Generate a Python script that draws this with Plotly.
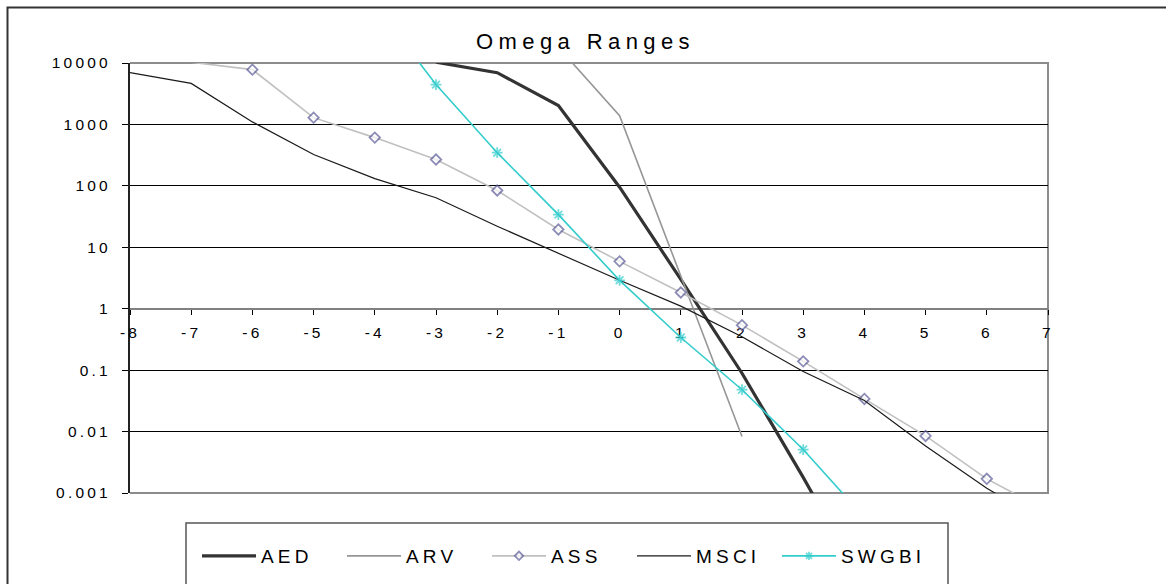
import plotly.graph_objects as go

# Omega values per threshold level for each series
aed_x = [-3, -2, -1, 0, 1, 2, 3, 4]
aed_y = [10300, 6950, 2030, 95, 3.0, 0.089, 0.0018, 0.00003]

arv_x = [-1, 0, 1, 2]
arv_y = [18000, 1390, 3.4, 0.0083]

ass_x = [-8, -7, -6, -5, -4, -3, -2, -1, 0, 1, 2, 3, 4, 5, 6, 7]
ass_y = [12000, 10300, 7800, 1290, 610, 268, 84, 19.5, 5.9, 1.84, 0.54, 0.139,
         0.034, 0.0085, 0.0017, 0.0005]

msci_x = [-8, -7, -6, -5, -4, -3, -2, -1, 0, 1, 2, 3, 4, 5, 6, 7]
msci_y = [6950, 4660, 1100, 324, 131, 64, 22, 7.9, 2.9, 1.1, 0.35, 0.095,
          0.032, 0.0058, 0.0012, 0.0003]

swgbi_x = [-4, -3, -2, -1, 0, 1, 2, 3, 4]
swgbi_y = [90000, 4450, 347, 34, 2.9, 0.34, 0.048, 0.0051, 0.0004]

x_ticks = list(range(-8, 8))
y_ticks = [0.001, 0.01, 0.1, 1, 10, 100, 1000, 10000]
y_labels = ["0.001", "0.01", "0.1", "1", "10", "100", "1000", "10000"]

Y_MIN, Y_MAX = 0.001, 10000
FONT = "Liberation Sans, Arial, sans-serif"

fig = go.Figure()

fig.add_trace(go.Scatter(
    x=aed_x, y=aed_y, name="AED", mode="lines",
    line=dict(color="#333333", width=3.2)))

fig.add_trace(go.Scatter(
    x=arv_x, y=arv_y, name="ARV", mode="lines",
    line=dict(color="#969696", width=1.6)))

# hide markers that fall outside the visible value range
ass_sizes = [8 if Y_MIN <= v <= Y_MAX else 0 for v in ass_y]
fig.add_trace(go.Scatter(
    x=ass_x, y=ass_y, name="ASS", mode="lines+markers",
    line=dict(color="#C0C0C0", width=1.6),
    marker=dict(symbol="diamond", size=ass_sizes, color="white",
                line=dict(color="#5c5c99", width=1.8))))

fig.add_trace(go.Scatter(
    x=msci_x, y=msci_y, name="MSCI", mode="lines",
    line=dict(color="#1a1a1a", width=1.2)))

swgbi_sizes = [9 if Y_MIN <= v <= Y_MAX else 0 for v in swgbi_y]
fig.add_trace(go.Scatter(
    x=swgbi_x, y=swgbi_y, name="SWGBI", mode="lines+markers",
    line=dict(color="#33CCCC", width=1.6),
    marker=dict(symbol="asterisk-open", size=swgbi_sizes, color="#33CCCC",
                line=dict(color="#33CCCC", width=1.8))))

# plot area: x 130..1048 px, y 63..493 px
L, R, T, B = 130, 1048, 63, 493
W, H = 1166, 584
pw, ph = R - L, B - T


def px(xp):
    return (xp - L) / pw


def py(yp):
    return (B - yp) / ph


ITEM_W = 54
fig.update_layout(
    width=W, height=H,
    margin=dict(l=L, r=W - R, t=T, b=H - B, autoexpand=False),
    paper_bgcolor="white", plot_bgcolor="white",
    font=dict(family=FONT, color="black"),
    title=dict(text="Omega Ranges", x=px(591), xanchor="center",
               y=1 - 41 / H, yanchor="middle", yref="container",
               font=dict(size=22, family=FONT, color="black")),
    showlegend=True,
    legend=dict(orientation="h", x=px(197), xanchor="left",
                y=py(556), yanchor="middle",
                bgcolor="rgba(0,0,0,0)", borderwidth=0,
                font=dict(size=19, family=FONT, color="black"),
                itemwidth=ITEM_W, entrywidth=145 - ITEM_W - 15,
                entrywidthmode="pixels", traceorder="normal"),
    xaxis=dict(range=[-8, 7], tickvals=x_ticks, ticktext=[str(v) for v in x_ticks],
               anchor="free", position=3 / 7,
               showline=True, linecolor="#808080", linewidth=2,
               ticks="outside", ticklen=5, tickcolor="black", tickwidth=1,
               ticklabelstandoff=5,
               tickfont=dict(size=15.5, family=FONT, color="black"),
               showgrid=False, zeroline=False, layer="below traces"),
    yaxis=dict(type="log", range=[-3, 4], tickvals=y_ticks, ticktext=y_labels,
               showline=True, linecolor="#222222", linewidth=2,
               ticks="outside", ticklen=6, tickcolor="black", tickwidth=1,
               ticklabelstandoff=8,
               tickfont=dict(size=15.5, family=FONT, color="black"),
               showgrid=True, gridcolor="black", gridwidth=1,
               zeroline=False, layer="below traces"),
    shapes=[
        # plot area frame (top, right, bottom)
        dict(type="path", xref="paper", yref="paper",
             path="M 0 1 L 1 1 L 1 0 L 0 0",
             line=dict(color="#8c8c8c", width=2), layer="between"),
        # outer chart frame
        dict(type="rect", xref="paper", yref="paper",
             x0=px(7.5), x1=px(1180), y0=py(600), y1=py(7.5),
             line=dict(color="#333333", width=2), layer="below"),
        # legend box
        dict(type="rect", xref="paper", yref="paper",
             x0=px(186), x1=px(948), y0=py(600), y1=py(523),
             line=dict(color="#555555", width=1.5), layer="below"),
    ],
)

style_js = """
var s = document.createElement('style');
s.textContent = '.gtitle{letter-spacing:5.4px}' +
  '.ytick text{letter-spacing:3.2px}' +
  '.xtick text{letter-spacing:3.2px}' +
  '.legendtext{letter-spacing:4.2px}' +
  '.legend .scrollbox{clip-path:none !important}';
document.head.appendChild(s);
"""

fig.write_html("out.html", post_script=style_js)
